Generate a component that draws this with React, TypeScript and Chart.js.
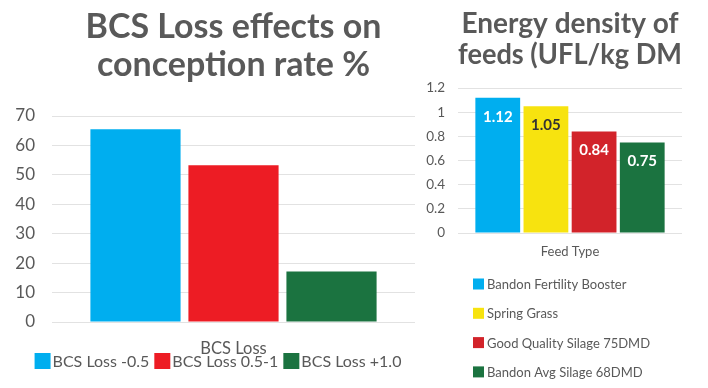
import React, { useEffect, useRef } from "react";
import { Chart, registerables } from "chart.js";

Chart.register(...registerables);

// ---------- Data: left chart ----------
const bcsCategories = ["BCS Loss"];
const bcsSeries = ["BCS Loss -0.5", "BCS Loss 0.5-1", "BCS Loss +1.0"];
const bcsValues = [65.5, 53.3, 17.2];
const bcsTicks = [0, 10, 20, 30, 40, 50, 60, 70];
const bcsTitle = ["BCS Loss effects on", "conception rate %"];

// ---------- Data: right chart ----------
const feedCategories = ["Feed Type"];
const feedSeries = [
  "Bandon Fertility Booster",
  "Spring Grass",
  "Good Quality Silage 75DMD",
  "Bandon Avg Silage 68DMD",
];
const feedValues = [1.12, 1.05, 0.84, 0.75];
const feedTicks = [0, 0.2, 0.4, 0.6, 0.8, 1, 1.2];
const feedTickLabels = ["0", "0.2", "0.4", "0.6", "0.8", "1", "1.2"];
const feedTitle = ["Energy density of", "feeds (UFL/kg DM"];

// ---------- Styles ----------
const bcsColors = ["#00AEEF", "#ED1C24", "#1B7340"];
const feedColors = ["#00AEEF", "#F7E30F", "#D2232A", "#1B7340"];
const feedLabelColors = ["#FFFFFF", "#333333", "#FFFFFF", "#FFFFFF"];
const TEXT = "#595959";
const GRID = "#e2e2e2";
const FAMILY = "Lato";

const legendPlugin = {
  id: "customLegend",
  afterDraw(chart: any, _args: any, opts: any) {
    if (!opts || !opts.display) return;
    const ctx = chart.ctx;
    ctx.save();
    ctx.font = `${opts.fontSize}px ${FAMILY}`;
    ctx.textBaseline = "middle";
    ctx.textAlign = "left";
    const items = chart.data.datasets.map((d: any) => ({
      text: d.label,
      color: d.backgroundColor,
    }));
    if (opts.mode === "row") {
      const widths = items.map(
        (it: any) => opts.box + opts.textGap + ctx.measureText(it.text).width
      );
      const total =
        widths.reduce((a: number, b: number) => a + b, 0) +
        opts.itemGap * (items.length - 1);
      let x = chart.width / 2 - total / 2 + (opts.shiftX || 0);
      items.forEach((it: any, i: number) => {
        ctx.fillStyle = it.color;
        ctx.fillRect(x, opts.y - opts.box / 2, opts.box, opts.box);
        ctx.fillStyle = opts.color;
        ctx.fillText(it.text, x + opts.box + opts.textGap, opts.y + 1);
        x += widths[i] + opts.itemGap;
      });
    } else {
      items.forEach((it: any, i: number) => {
        const y = opts.y + i * opts.rowHeight;
        ctx.fillStyle = it.color;
        ctx.fillRect(opts.x, y - opts.box / 2, opts.box, opts.box);
        ctx.fillStyle = opts.color;
        ctx.fillText(it.text, opts.x + opts.box + opts.textGap, y + 1);
      });
    }
    ctx.restore();
  },
};

const valueLabelPlugin = {
  id: "valueLabels",
  afterDatasetsDraw(chart: any, _args: any, opts: any) {
    if (!opts || !opts.display) return;
    const ctx = chart.ctx;
    ctx.save();
    ctx.font = `bold ${opts.size}px ${FAMILY}`;
    ctx.textAlign = "center";
    ctx.textBaseline = "middle";
    chart.data.datasets.forEach((ds: any, i: number) => {
      const meta = chart.getDatasetMeta(i);
      meta.data.forEach((el: any, j: number) => {
        ctx.fillStyle = opts.colors[i];
        ctx.fillText(Number(ds.data[j]).toFixed(2), el.x, el.y + opts.offset);
      });
    });
    ctx.restore();
  },
};

export default function App() {
  const leftRef = useRef<HTMLCanvasElement>(null);
  const rightRef = useRef<HTMLCanvasElement>(null);

  useEffect(() => {
    Chart.defaults.font.family = FAMILY;

    const left = new Chart(leftRef.current as HTMLCanvasElement, {
      type: "bar",
      data: {
        labels: bcsCategories,
        datasets: bcsSeries.map((s, i) => ({
          label: s,
          data: [bcsValues[i]],
          backgroundColor: bcsColors[i],
          borderWidth: 0,
          categoryPercentage: 0.81,
          barPercentage: 0.92,
        })),
      },
      options: {
        animation: false,
        responsive: false,
        devicePixelRatio: 1,
        layout: { padding: { left: 0, right: 25, top: 0, bottom: 30 } },
        plugins: {
          legend: { display: false },
          tooltip: { enabled: false },
          title: {
            display: true,
            text: bcsTitle,
            color: TEXT,
            fullSize: false,
            font: { family: FAMILY, size: 34, weight: "bold", lineHeight: 38 / 34 },
            padding: { top: 8, bottom: 32 },
          },
          customLegend: {
            display: true,
            mode: "row",
            y: 361,
            box: 16,
            textGap: 2,
            itemGap: 5,
            fontSize: 16,
            color: TEXT,
            shiftX: -2,
          },
        } as any,
        scales: {
          x: {
            grid: { display: false, drawTicks: false },
            border: { display: false },
            ticks: { color: TEXT, font: { size: 16.5 }, padding: 17 },
            afterFit(s: any) {
              s.height = 36;
            },
          },
          y: {
            min: 0,
            max: 70,
            afterBuildTicks(s: any) {
              s.ticks = bcsTicks.map((v) => ({ value: v }));
            },
            grid: { color: GRID, drawTicks: false },
            border: { display: false },
            ticks: { color: TEXT, font: { size: 17 }, padding: 17 },
            afterFit(s: any) {
              s.width = 52;
            },
          },
        },
      },
      plugins: [legendPlugin],
    });

    const right = new Chart(rightRef.current as HTMLCanvasElement, {
      type: "bar",
      data: {
        labels: feedCategories,
        datasets: feedSeries.map((s, i) => ({
          label: s,
          data: [feedValues[i]],
          backgroundColor: feedColors[i],
          borderWidth: 0,
          categoryPercentage: 0.86,
          barPercentage: 0.93,
        })),
      },
      options: {
        animation: false,
        responsive: false,
        devicePixelRatio: 1,
        layout: { padding: { left: 0, right: 26, top: 0, bottom: 126 } },
        plugins: {
          legend: { display: false },
          tooltip: { enabled: false },
          title: {
            display: true,
            text: feedTitle,
            color: TEXT,
            fullSize: false,
            font: { family: FAMILY, size: 28, weight: "bold", lineHeight: 31 / 28 },
            padding: { top: 8, bottom: 18 },
          },
          valueLabels: {
            display: true,
            size: 15,
            offset: 19,
            colors: feedLabelColors,
          },
          customLegend: {
            display: true,
            mode: "column",
            x: 53,
            y: 284,
            rowHeight: 29.3,
            box: 11,
            textGap: 3,
            fontSize: 13,
            color: TEXT,
          },
        } as any,
        scales: {
          x: {
            grid: { display: false, drawTicks: false },
            border: { display: false },
            ticks: { color: TEXT, font: { size: 13 }, padding: 11 },
            afterFit(s: any) {
              s.height = 29;
            },
          },
          y: {
            min: 0,
            max: 1.2,
            afterBuildTicks(s: any) {
              s.ticks = feedTicks.map((v) => ({ value: v }));
            },
            grid: { color: GRID, drawTicks: false },
            border: { display: false },
            ticks: {
              color: TEXT,
              font: { size: 13.5 },
              padding: 13,
              callback: (_v: any, idx: number) => feedTickLabels[idx],
            },
            afterFit(s: any) {
              s.width = 38;
            },
          },
        },
      },
      plugins: [legendPlugin, valueLabelPlugin],
    });

    return () => {
      left.destroy();
      right.destroy();
    };
  }, []);

  return (
    <div
      style={{
        position: "fixed",
        left: 0,
        top: 0,
        width: 708,
        height: 388,
        background: "#ffffff",
        overflow: "hidden",
      }}
    >
      <canvas
        ref={leftRef}
        width={440}
        height={388}
        style={{ position: "absolute", left: 0, top: 0, width: 440, height: 388 }}
      />
      <canvas
        ref={rightRef}
        width={288}
        height={388}
        style={{ position: "absolute", left: 420, top: 0, width: 288, height: 388 }}
      />
    </div>
  );
}
